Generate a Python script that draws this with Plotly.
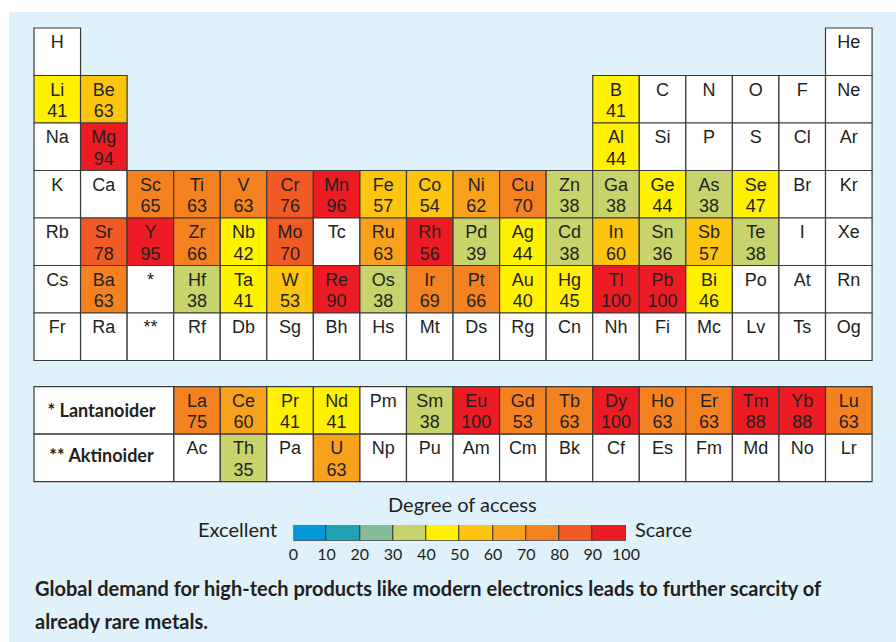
import plotly.graph_objects as go

# ---------------- data ----------------
main_rows = [
    ["H"] + [None] * 16 + ["He"],
    ["Li", "Be"] + [None] * 10 + ["B", "C", "N", "O", "F", "Ne"],
    ["Na", "Mg"] + [None] * 10 + ["Al", "Si", "P", "S", "Cl", "Ar"],
    ["K", "Ca", "Sc", "Ti", "V", "Cr", "Mn", "Fe", "Co", "Ni", "Cu", "Zn", "Ga", "Ge", "As", "Se", "Br", "Kr"],
    ["Rb", "Sr", "Y", "Zr", "Nb", "Mo", "Tc", "Ru", "Rh", "Pd", "Ag", "Cd", "In", "Sn", "Sb", "Te", "I", "Xe"],
    ["Cs", "Ba", "*", "Hf", "Ta", "W", "Re", "Os", "Ir", "Pt", "Au", "Hg", "Tl", "Pb", "Bi", "Po", "At", "Rn"],
    ["Fr", "Ra", "**", "Rf", "Db", "Sg", "Bh", "Hs", "Mt", "Ds", "Rg", "Cn", "Nh", "Fi", "Mc", "Lv", "Ts", "Og"],
]
lanthanoids = ["La", "Ce", "Pr", "Nd", "Pm", "Sm", "Eu", "Gd", "Tb", "Dy", "Ho", "Er", "Tm", "Yb", "Lu"]
actinoids = ["Ac", "Th", "Pa", "U", "Np", "Pu", "Am", "Cm", "Bk", "Cf", "Es", "Fm", "Md", "No", "Lr"]
series_labels = ["* Lantanoider", "** Aktinoider"]

rated_symbols = ["Li", "Be", "B", "Mg", "Al",
                 "Sc", "Ti", "V", "Cr", "Mn", "Fe", "Co", "Ni", "Cu", "Zn", "Ga", "Ge", "As", "Se",
                 "Sr", "Y", "Zr", "Nb", "Mo", "Ru", "Rh", "Pd", "Ag", "Cd", "In", "Sn", "Sb", "Te",
                 "Ba", "Hf", "Ta", "W", "Re", "Os", "Ir", "Pt", "Au", "Hg", "Tl", "Pb", "Bi",
                 "La", "Ce", "Pr", "Nd", "Sm", "Eu", "Gd", "Tb", "Dy", "Ho", "Er", "Tm", "Yb", "Lu",
                 "Th", "U"]
rated_values = [41, 63, 41, 94, 44,
                65, 63, 63, 76, 96, 57, 54, 62, 70, 38, 38, 44, 38, 47,
                78, 95, 66, 42, 70, 63, 56, 39, 44, 38, 60, 36, 57, 38,
                63, 38, 41, 53, 90, 38, 69, 66, 40, 45, 100, 100, 46,
                75, 60, 41, 41, 38, 100, 53, 63, 100, 63, 63, 88, 88, 63,
                35, 63]
# colour class (0..9) of each rated cell as drawn in the picture
rated_classes = [4, 5, 4, 9, 4,
                 7, 7, 7, 8, 9, 5, 5, 6, 7, 3, 3, 4, 3, 4,
                 8, 9, 7, 4, 8, 6, 9, 3, 4, 3, 5, 3, 5, 3,
                 7, 3, 4, 5, 9, 3, 7, 7, 4, 4, 9, 9, 4,
                 7, 6, 4, 4, 3, 9, 7, 7, 9, 7, 7, 9, 9, 7,
                 3, 6]

scale_edges = [0, 10, 20, 30, 40, 50, 60, 70, 80, 90, 100]
scale_colors = ["#0098d8", "#21a3b6", "#86bb97", "#c8d46b", "#fff100",
                "#fec50f", "#f8a11c", "#f58220", "#f15a25", "#ed1c24"]

title_text = "Degree of access"
low_label = "Excellent"
high_label = "Scarce"
caption_lines = ["Global demand for high-tech products like modern electronics leads to further scarcity of",
                 "already rare metals."]

# ---------------- geometry / styling ----------------
W, H = 896, 642
COLW, ROWH = 46.56, 47.5
X0, Y0 = 34, 28
LOW_ROW0 = (386.7 - Y0) / ROWH
TXT = "#231f20"
BORDER = "#3a3a3a"
CELL_FONT = dict(family="Liberation Sans, Arial, sans-serif", size=18, color=TXT)
LATO = "Lato, sans-serif"

val_of = dict(zip(rated_symbols, rated_values))
cls_of = dict(zip(rated_symbols, rated_classes))

cells = []  # (col, row, symbol)
for r, row in enumerate(main_rows):
    for c, s in enumerate(row):
        if s is not None:
            cells.append((c, r, s))
for i, s in enumerate(lanthanoids):
    cells.append((3 + i, LOW_ROW0, s))
for i, s in enumerate(actinoids):
    cells.append((3 + i, LOW_ROW0 + 1, s))

shapes = []
shapes.append(dict(type="rect", xref="paper", yref="paper", x0=9 / W, x1=1, y0=0, y1=1 - 12 / H,
                   fillcolor="#dff1fa", line=dict(width=0), layer="below"))
for c, r, s in cells:
    fill = scale_colors[cls_of[s]] if s in cls_of else "white"
    shapes.append(dict(type="rect", xref="x", yref="y", x0=c, x1=c + 1, y0=r, y1=r + 1,
                       fillcolor=fill, line=dict(color=BORDER, width=1.2), layer="below"))
for k, lab in enumerate(series_labels):
    shapes.append(dict(type="rect", xref="x", yref="y", x0=0, x1=3, y0=LOW_ROW0 + k, y1=LOW_ROW0 + k + 1,
                       fillcolor="white", line=dict(color=BORDER, width=1.2), layer="below"))

fig = go.Figure()

fig.add_trace(go.Scatter(x=[c + 0.5 for c, r, s in cells], y=[r + 15.5 / ROWH for c, r, s in cells],
                         mode="text", text=[s for c, r, s in cells],
                         textfont=CELL_FONT, hoverinfo="skip", showlegend=False))
num_cells = [(c, r, s) for c, r, s in cells if s in val_of]
fig.add_trace(go.Scatter(x=[c + 0.5 for c, r, s in num_cells],
                         y=[r + 37 / ROWH for c, r, s in num_cells],
                         mode="text", text=[str(val_of[s]) for c, r, s in num_cells],
                         textfont=CELL_FONT, hoverinfo="skip", showlegend=False))
fig.add_trace(go.Scatter(x=[1.45, 1.45], y=[LOW_ROW0 + 0.55, LOW_ROW0 + 1.5], mode="text",
                         text=["<b>%s</b>" % t for t in series_labels],
                         textfont=dict(family=LATO, size=18, color=TXT),
                         hoverinfo="skip", showlegend=False))

fig.add_trace(go.Bar(x=[(a + b) / 2 for a, b in zip(scale_edges[:-1], scale_edges[1:])],
                     y=[1] * 10, width=10, marker=dict(color=scale_colors, line=dict(color=BORDER, width=1)),
                     xaxis="x2", yaxis="y2", hoverinfo="skip", showlegend=False))

annotations = [
    dict(xref="x2", yref="paper", x=50, y=1 - 504 / H, text=title_text, showarrow=False,
         xshift=3, yanchor="middle", font=dict(family=LATO, size=20, color=TXT)),
    dict(xref="x2", yref="paper", x=0, y=1 - 529 / H, text=low_label, showarrow=False, xanchor="right",
         yanchor="middle", xshift=-14, font=dict(family=LATO, size=20, color=TXT)),
    dict(xref="x2", yref="paper", x=100, y=1 - 529 / H, text=high_label, showarrow=False, xanchor="left",
         yanchor="middle", xshift=7, font=dict(family=LATO, size=20, color=TXT)),
]
for k, line in enumerate(caption_lines):
    annotations.append(dict(xref="paper", yref="paper", x=33 / W, y=1 - (588 + 33 * k) / H,
                            text="<b>%s</b>" % line, showarrow=False, xanchor="left", yanchor="middle",
                            font=dict(family=LATO, size=20, color=TXT)))

fig.update_layout(
    width=W, height=H, margin=dict(l=0, r=0, t=0, b=0, autoexpand=False), autosize=False,
    paper_bgcolor="white", plot_bgcolor="rgba(0,0,0,0)",
    shapes=shapes, annotations=annotations,
    xaxis=dict(range=[-X0 / COLW, (W - X0) / COLW], visible=False, domain=[0, 1]),
    yaxis=dict(range=[(H - Y0) / ROWH, -Y0 / ROWH], visible=False, domain=[0, 1]),
    xaxis2=dict(range=[0, 100], domain=[293.3 / W, 626 / W], anchor="y2",
                tickvals=scale_edges, ticktext=[str(v) for v in scale_edges],
                showgrid=False, zeroline=False, showline=False, ticks="",
                tickfont=dict(family=LATO, size=16, color=TXT), ticklabelstandoff=2),
    yaxis2=dict(range=[0, 1], domain=[(H - 540.7) / H, (H - 525) / H], anchor="x2", visible=False),
    bargap=0, showlegend=False,
)

post = ("document.documentElement.style.overflow='hidden';"
        "document.body.style.margin='0';document.body.style.overflow='hidden';"
        "var gd=document.getElementById('{plot_id}');"
        "Plotly.relayout(gd,{width:%d,height:%d});" % (W, H))
fig.write_html("out.html", config={"displayModeBar": False, "responsive": False}, post_script=post)
